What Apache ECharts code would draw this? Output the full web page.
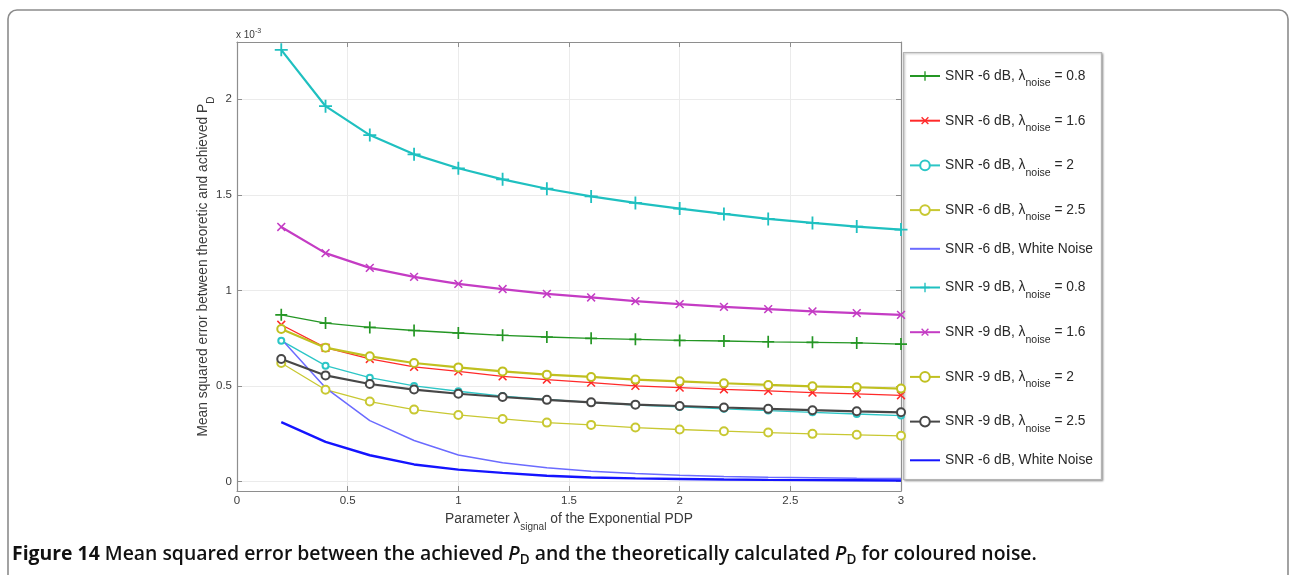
<!DOCTYPE html>
<html>
<head>
<meta charset="utf-8">
<script src="https://cdn.jsdelivr.net/npm/echarts@6/dist/echarts.min.js"></script>
<style>
  html, body { margin: 0; padding: 0; background: #ffffff; }
  #chart { width: 1291px; height: 575px; }
</style>
</head>
<body>
<div id="chart"></div>
<script>
// Exponential PDP parameter λ_signal (x values)
const lambdaSignal = [0.2, 0.4, 0.6, 0.8, 1.0, 1.2, 1.4, 1.6, 1.8, 2.0, 2.2, 2.4, 2.6, 2.8, 3.0];

// Mean squared error, in units of 1e-3
const snr6Noise08 = [0.872, 0.829, 0.806, 0.790, 0.777, 0.765, 0.756, 0.749, 0.744, 0.738, 0.735, 0.731, 0.728, 0.725, 0.719];
const snr6Noise16 = [0.820, 0.700, 0.641, 0.600, 0.576, 0.550, 0.533, 0.517, 0.500, 0.491, 0.482, 0.474, 0.465, 0.458, 0.451];
const snr6Noise2  = [0.737, 0.606, 0.543, 0.500, 0.472, 0.447, 0.430, 0.414, 0.400, 0.390, 0.380, 0.371, 0.362, 0.353, 0.345];
const snr6Noise25 = [0.620, 0.480, 0.418, 0.376, 0.348, 0.327, 0.308, 0.296, 0.282, 0.272, 0.263, 0.256, 0.249, 0.244, 0.239];
const snr6White   = [0.745, 0.490, 0.318, 0.214, 0.138, 0.098, 0.072, 0.054, 0.042, 0.032, 0.026, 0.022, 0.019, 0.017, 0.016];
const snr9Noise08 = [2.259, 1.964, 1.813, 1.712, 1.639, 1.581, 1.532, 1.492, 1.458, 1.428, 1.400, 1.374, 1.353, 1.334, 1.318];
const snr9Noise16 = [1.332, 1.195, 1.118, 1.071, 1.034, 1.007, 0.982, 0.963, 0.944, 0.928, 0.914, 0.902, 0.890, 0.881, 0.872];
const snr9Noise2  = [0.798, 0.700, 0.655, 0.620, 0.597, 0.576, 0.559, 0.547, 0.533, 0.524, 0.514, 0.505, 0.498, 0.493, 0.486];
const snr9Noise25 = [0.641, 0.555, 0.510, 0.481, 0.459, 0.442, 0.427, 0.414, 0.402, 0.395, 0.387, 0.380, 0.373, 0.367, 0.362];
const snr9White   = [0.310, 0.207, 0.137, 0.089, 0.062, 0.045, 0.030, 0.021, 0.016, 0.013, 0.010, 0.008, 0.007, 0.006, 0.005];

// Legend entries: SNR text and λ_noise value (null = white noise)
const seriesKeys  = ['s6n08', 's6n16', 's6n2', 's6n25', 's6w', 's9n08', 's9n16', 's9n2', 's9n25', 's9w'];
const snrLabels   = ['-6', '-6', '-6', '-6', '-6', '-9', '-9', '-9', '-9', '-6'];
const noiseLabels = ['0.8', '1.6', '2', '2.5', null, '0.8', '1.6', '2', '2.5', null];

const FONT = 'Liberation Sans, Arial, sans-serif';
const PLUS = 'path://M4.3,0H5.7V4.3H10V5.7H5.7V10H4.3V5.7H0V4.3H4.3Z';

function pairs(ys) {
  return lambdaSignal.map((x, i) => [x, ys[i]]);
}

function markerSeries(key, ys, color, width, symbol, size, rotate, symbolBorder) {
  return {
    name: key,
    type: 'line',
    data: pairs(ys),
    symbol: symbol,
    symbolSize: size,
    symbolRotate: rotate,
    showAllSymbol: true,
    lineStyle: { color: color, width: width },
    itemStyle: symbolBorder
      ? { color: color, borderColor: color, borderWidth: symbolBorder }
      : { color: color, borderWidth: 0 },
    emphasis: { disabled: true },
    animation: false
  };
}

function plainSeries(key, ys, color, width) {
  return {
    name: key,
    type: 'line',
    data: pairs(ys),
    symbol: 'none',
    lineStyle: { color: color, width: width },
    itemStyle: { color: color },
    emphasis: { disabled: true },
    animation: false
  };
}

const series = [
  markerSeries('s6n08', snr6Noise08, '#249624', 1.3, PLUS, 12, 0),
  markerSeries('s6n16', snr6Noise16, '#ff2a2a', 1.3, PLUS, 11, 45),
  markerSeries('s6n2',  snr6Noise2,  '#2cc6c6', 1.3, 'emptyCircle', 6, 0, 1.5),
  markerSeries('s6n25', snr6Noise25, '#c8c832', 1.3, 'emptyCircle', 8, 0, 1.5),
  plainSeries('s6w', snr6White, '#6b6bff', 1.5),
  markerSeries('s9n08', snr9Noise08, '#1fc0c0', 2.2, PLUS, 13, 0),
  markerSeries('s9n16', snr9Noise16, '#c43cc4', 2.2, PLUS, 11, 45),
  markerSeries('s9n2',  snr9Noise2,  '#c0c020', 2.2, 'emptyCircle', 8, 0, 2),
  markerSeries('s9n25', snr9Noise25, '#474747', 2.2, 'emptyCircle', 8, 0, 2),
  plainSeries('s9w', snr9White, '#1414ff', 2.4)
];

function legendText(key) {
  const i = seriesKeys.indexOf(key);
  if (noiseLabels[i] === null) {
    return '{p|SNR ' + snrLabels[i] + ' dB, White Noise}';
  }
  return '{t|SNR ' + snrLabels[i] + ' dB, \u03bb}{s|noise}{t| = ' + noiseLabels[i] + '}';
}

// White-noise entries show only their line in the legend
const legendData = seriesKeys.map((k, i) =>
  noiseLabels[i] === null ? { name: k, itemStyle: { opacity: 0 } } : { name: k }
);

const axisGray = '#8e8e8e';
const gridGray = '#ebebeb';
const labelColor = '#3a3a3a';

const chart = echarts.init(document.getElementById('chart'), null, { renderer: 'canvas' });

chart.setOption({
  backgroundColor: '#ffffff',
  animation: false,
  textStyle: { fontFamily: FONT },
  grid: {
    left: 237, right: 390, top: 42, bottom: 84,
    outerBoundsMode: 'none',
    show: false
  },
  xAxis: [{
    type: 'value',
    min: 0, max: 3, interval: 0.5,
    position: 'bottom',
    axisLine: { show: true, onZero: false, lineStyle: { color: axisGray, width: 1.2 } },
    axisTick: { show: true, inside: true, length: 5, lineStyle: { color: axisGray } },
    axisLabel: { color: labelColor, fontSize: 11.5, margin: 4, fontFamily: FONT },
    splitLine: { show: true, lineStyle: { color: gridGray, width: 1 } },
    name: '{t|Parameter \u03bb}{s|signal}{t| of the Exponential PDP}',
    nameLocation: 'middle',
    nameGap: 15,
    nameMoveOverlap: false,
    nameTextStyle: {
      color: labelColor,
      fontFamily: FONT,
      rich: {
        t: { fontSize: 13.8, lineHeight: 26, color: labelColor, fontFamily: FONT },
        s: { fontSize: 10, lineHeight: 10, padding: [16, 0, 0, 0], color: labelColor, fontFamily: FONT }
      }
    }
  }, {
    type: 'value',
    min: 0, max: 3, interval: 0.5,
    position: 'top',
    axisLine: { show: true, onZero: false, lineStyle: { color: axisGray, width: 1.2 } },
    axisTick: { show: true, inside: true, length: 5, lineStyle: { color: axisGray } },
    axisLabel: { show: false },
    splitLine: { show: false }
  }],
  yAxis: [{
    type: 'value',
    min: -0.05, max: 2.3, splitNumber: 5,
    position: 'left',
    axisLine: { show: true, onZero: false, lineStyle: { color: axisGray, width: 1.2 } },
    axisTick: { show: true, inside: true, length: 5, lineStyle: { color: axisGray } },
    axisLabel: { color: labelColor, fontSize: 11.5, margin: 5, showMinLabel: false, showMaxLabel: false, fontFamily: FONT },
    splitLine: { show: true, showMinLine: false, showMaxLine: false, lineStyle: { color: gridGray, width: 1 } },
    name: '{t|Mean squared error between theoretic and achieved P}{s|D}',
    nameLocation: 'middle',
    nameRotate: 90,
    nameGap: 21,
    nameMoveOverlap: false,
    nameTextStyle: {
      color: labelColor,
      fontFamily: FONT,
      rich: {
        t: { fontSize: 13.8, lineHeight: 26, color: labelColor, fontFamily: FONT },
        s: { fontSize: 10, lineHeight: 10, padding: [16, 0, 0, 0], color: labelColor, fontFamily: FONT }
      }
    }
  }, {
    type: 'value',
    min: -0.05, max: 2.3, splitNumber: 5,
    position: 'right',
    axisLine: { show: true, onZero: false, lineStyle: { color: axisGray, width: 1.2 } },
    axisTick: { show: true, inside: true, length: 5, lineStyle: { color: axisGray } },
    axisLabel: { show: false },
    splitLine: { show: false }
  }],
  legend: {
    orient: 'vertical',
    left: 909,
    top: 63,
    padding: 0,
    itemWidth: 30,
    itemHeight: 12,
    itemGap: 18.7,
    selectedMode: false,
    data: legendData,
    formatter: legendText,
    textStyle: {
      color: '#2a2a2a',
      fontFamily: FONT,
      rich: {
        t: { fontSize: 13.8, lineHeight: 27, color: '#2a2a2a', fontFamily: FONT },
        p: { fontSize: 13.8, lineHeight: 16, color: '#2a2a2a', fontFamily: FONT },
        s: { fontSize: 10.5, lineHeight: 12, padding: [15, 0, 0, 0], color: '#2a2a2a', fontFamily: FONT }
      }
    },
    z: 10
  },
  graphic: [
    {
      type: 'rect',
      z: 1,
      shape: { x: 8, y: 10, width: 1280, height: 620, r: 9 },
      style: { fill: 'none', stroke: '#8c8c8c', lineWidth: 1.6 },
      silent: true
    },
    {
      type: 'rect',
      z: 2,
      shape: { x: 903.5, y: 52.5, width: 198, height: 427 },
      style: {
        fill: '#ffffff', stroke: '#b4b4b4', lineWidth: 1.2,
        shadowBlur: 2, shadowOffsetX: 1, shadowOffsetY: 1, shadowColor: 'rgba(0,0,0,0.3)'
      },
      silent: true
    },
    {
      type: 'text',
      z: 3,
      x: 236, y: 28,
      style: {
        text: '{a|x 10}{b|-3}',
        fill: labelColor,
        rich: {
          a: { fontSize: 10, lineHeight: 14, fontFamily: FONT, fill: labelColor },
          b: { fontSize: 7, lineHeight: 7, verticalAlign: 'top', fontFamily: FONT, fill: labelColor }
        }
      },
      silent: true
    },
    {
      type: 'text',
      z: 3,
      x: 12, y: 540,
      style: {
        text: '{b|Figure 14}{n| Mean squared error between the achieved }{i|P}{d|D}{n| and the theoretically calculated }{i|P}{d|D}{n| for coloured noise.}',
        fill: '#111111',
        rich: {
          b: { fontSize: 19.4, fontWeight: 'bold', lineHeight: 28, fontFamily: 'Open Sans', fill: '#111111' },
          n: { fontSize: 19.4, fontWeight: 600, lineHeight: 28, fontFamily: 'Open Sans', fill: '#111111' },
          i: { fontSize: 19.4, fontWeight: 600, fontStyle: 'italic', lineHeight: 28, fontFamily: 'Open Sans', fill: '#111111' },
          d: { fontSize: 13.5, fontWeight: 600, lineHeight: 13, padding: [13, 0, 0, 0], fontFamily: 'Open Sans', fill: '#111111' }
        }
      },
      silent: true
    }
  ],
  series: series
});
</script>
</body>
</html>
